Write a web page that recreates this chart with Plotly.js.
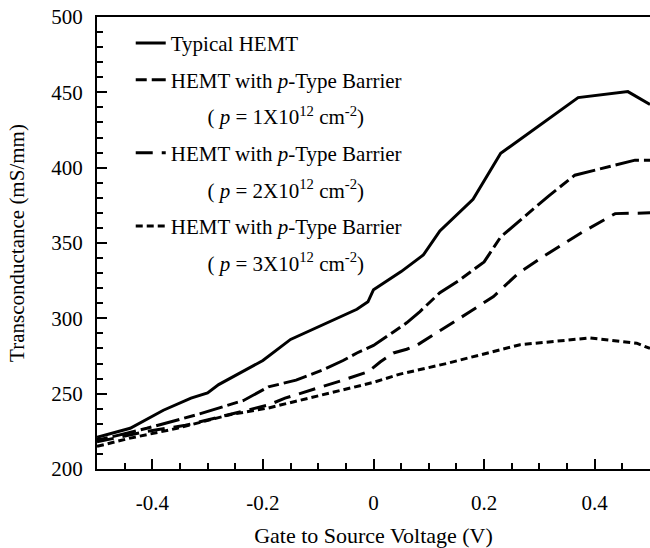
<!DOCTYPE html>
<html>
<head>
<meta charset="utf-8">
<script src="https://cdn.plot.ly/plotly-3.0.1.min.js"></script>
<style>html,body{margin:0;padding:0;background:#fff;}#chart{width:650px;height:548px;}</style>
</head>
<body>
<div id="chart"></div>
<script>
// Typical HEMT
const xTypical = [-0.5, -0.44, -0.38, -0.33, -0.30, -0.28, -0.20, -0.15, -0.03, -0.01, 0.0, 0.05, 0.09, 0.12, 0.18, 0.23, 0.37, 0.46, 0.5];
const gTypical = [221, 227, 239, 247, 250.5, 256, 272, 286, 306, 311, 319, 331, 342, 358, 379, 409.5, 446.5, 450.5, 442];
// p = 1e12
const xP1 = [-0.5, -0.41, -0.32, -0.27, -0.235, -0.19, -0.14, -0.09, -0.055, -0.03, 0.0, 0.036, 0.06, 0.084, 0.12, 0.156, 0.2, 0.21, 0.23, 0.316, 0.364, 0.473, 0.5];
const gP1 = [219, 227, 236, 241.5, 245.5, 254.5, 259, 266, 272, 277, 282, 291, 297, 304.5, 317, 325.5, 337.5, 343, 354, 381, 395, 405, 405];
// p = 2e12
const xP2 = [-0.5, -0.41, -0.34, -0.30, -0.23, -0.19, -0.16, -0.125, -0.078, -0.055, -0.01, 0.012, 0.036, 0.06, 0.08, 0.126, 0.175, 0.217, 0.262, 0.307, 0.379, 0.437, 0.5];
const gP2 = [218, 225, 229, 232.5, 238.5, 242.5, 247, 251, 256, 259, 264.5, 271, 277, 279.5, 282.5, 293, 304.5, 314.5, 330, 341, 357.5, 369.5, 370];
// p = 3e12
const xP3 = [-0.5, -0.44, -0.355, -0.26, -0.19, -0.13, -0.07, 0.0, 0.048, 0.132, 0.265, 0.392, 0.476, 0.494, 0.5];
const gP3 = [215, 220.5, 227, 236, 240.5, 246, 251, 257.5, 263, 270, 282.5, 287, 283.5, 281, 280];

const seriesNames = ['Typical HEMT', 'HEMT with <i>p</i>-Type Barrier', 'HEMT with <i>p</i>-Type Barrier', 'HEMT with <i>p</i>-Type Barrier'];
const densityLabels = ['( <i>p</i> = 1X10<sup>12</sup> cm<sup>-2</sup>)', '( <i>p</i> = 2X10<sup>12</sup> cm<sup>-2</sup>)', '( <i>p</i> = 3X10<sup>12</sup> cm<sup>-2</sup>)'];

const xTickVals = [-0.4, -0.2, 0, 0.2, 0.4];
const xTickText = ['-0.4', '-0.2', '0', '0.2', '0.4'];
const yTickVals = [200, 250, 300, 350, 400, 450, 500];
const yTickText = ['200', '250', '300', '350', '400', '450', '500'];

const FONT = 'Liberation Serif, Times New Roman, serif';
const pad = '\u00a0'.repeat(7);

function dataTrace(x, y, name, dash, group) {
  return {x: x, y: y, mode: 'lines', name: name, legendgroup: group,
    line: {color: '#000', width: 3, dash: dash}, hoverinfo: 'skip'};
}
function labelTrace(text, group) {
  return {x: [null], y: [null], mode: 'lines', name: pad + text, legendgroup: group,
    line: {color: 'rgba(0,0,0,0)', width: 0}, hoverinfo: 'skip'};
}

const traces = [
  dataTrace(xTypical, gTypical, seriesNames[0], 'solid', 'g0'),
  dataTrace(xP1, gP1, seriesNames[1], '11px,5px,24px,5px', 'g1'),
  labelTrace(densityLabels[0], 'g1b'),
  dataTrace(xP2, gP2, seriesNames[2], '17px,9px', 'g2'),
  labelTrace(densityLabels[1], 'g2b'),
  dataTrace(xP3, gP3, seriesNames[3], '7px,4px', 'g3'),
  labelTrace(densityLabels[2], 'g3b')
];

const layout = {
  width: 650, height: 548,
  margin: {l: 97, r: 0, t: 17, b: 79},
  paper_bgcolor: '#fff', plot_bgcolor: '#fff',
  font: {family: FONT, size: 21, color: '#000'},
  showlegend: true,
  legend: {x: 0.061, y: 0.987, xanchor: 'left', yanchor: 'top', bgcolor: 'rgba(0,0,0,0)',
    font: {family: FONT, size: 21, color: '#000'}, traceorder: 'grouped', tracegroupgap: 6.3},
  xaxis: {
    range: [-0.5, 0.5], tickmode: 'array', tickvals: xTickVals, ticktext: xTickText,
    ticks: 'inside', ticklen: 10, tickwidth: 2, tickcolor: '#000',
    minor: {dtick: 0.05, tick0: 0, ticks: 'inside', ticklen: 6, tickwidth: 2, tickcolor: '#000'},
    showline: true, linecolor: '#000', linewidth: 2, mirror: true,
    showgrid: false, zeroline: false, ticklabelstandoff: 14,
    tickfont: {family: FONT, size: 21, color: '#000'},
    title: {text: 'Gate to Source Voltage (V)', font: {family: FONT, size: 22, color: '#000'}, standoff: 16}
  },
  yaxis: {
    range: [200, 500], tickmode: 'array', tickvals: yTickVals, ticktext: yTickText,
    ticks: 'inside', ticklen: 10, tickwidth: 2, tickcolor: '#000',
    minor: {dtick: 10, tick0: 200, ticks: 'inside', ticklen: 6, tickwidth: 2, tickcolor: '#000'},
    showline: true, linecolor: '#000', linewidth: 2, mirror: false,
    showgrid: false, zeroline: false, ticklabelstandoff: 8,
    tickfont: {family: FONT, size: 21, color: '#000'},
    title: {text: 'Transconductance (mS/mm)', font: {family: FONT, size: 21, color: '#000'}, standoff: 21}
  }
};

Plotly.newPlot('chart', traces, layout, {displayModeBar: false, staticPlot: true});
</script>
</body>
</html>
